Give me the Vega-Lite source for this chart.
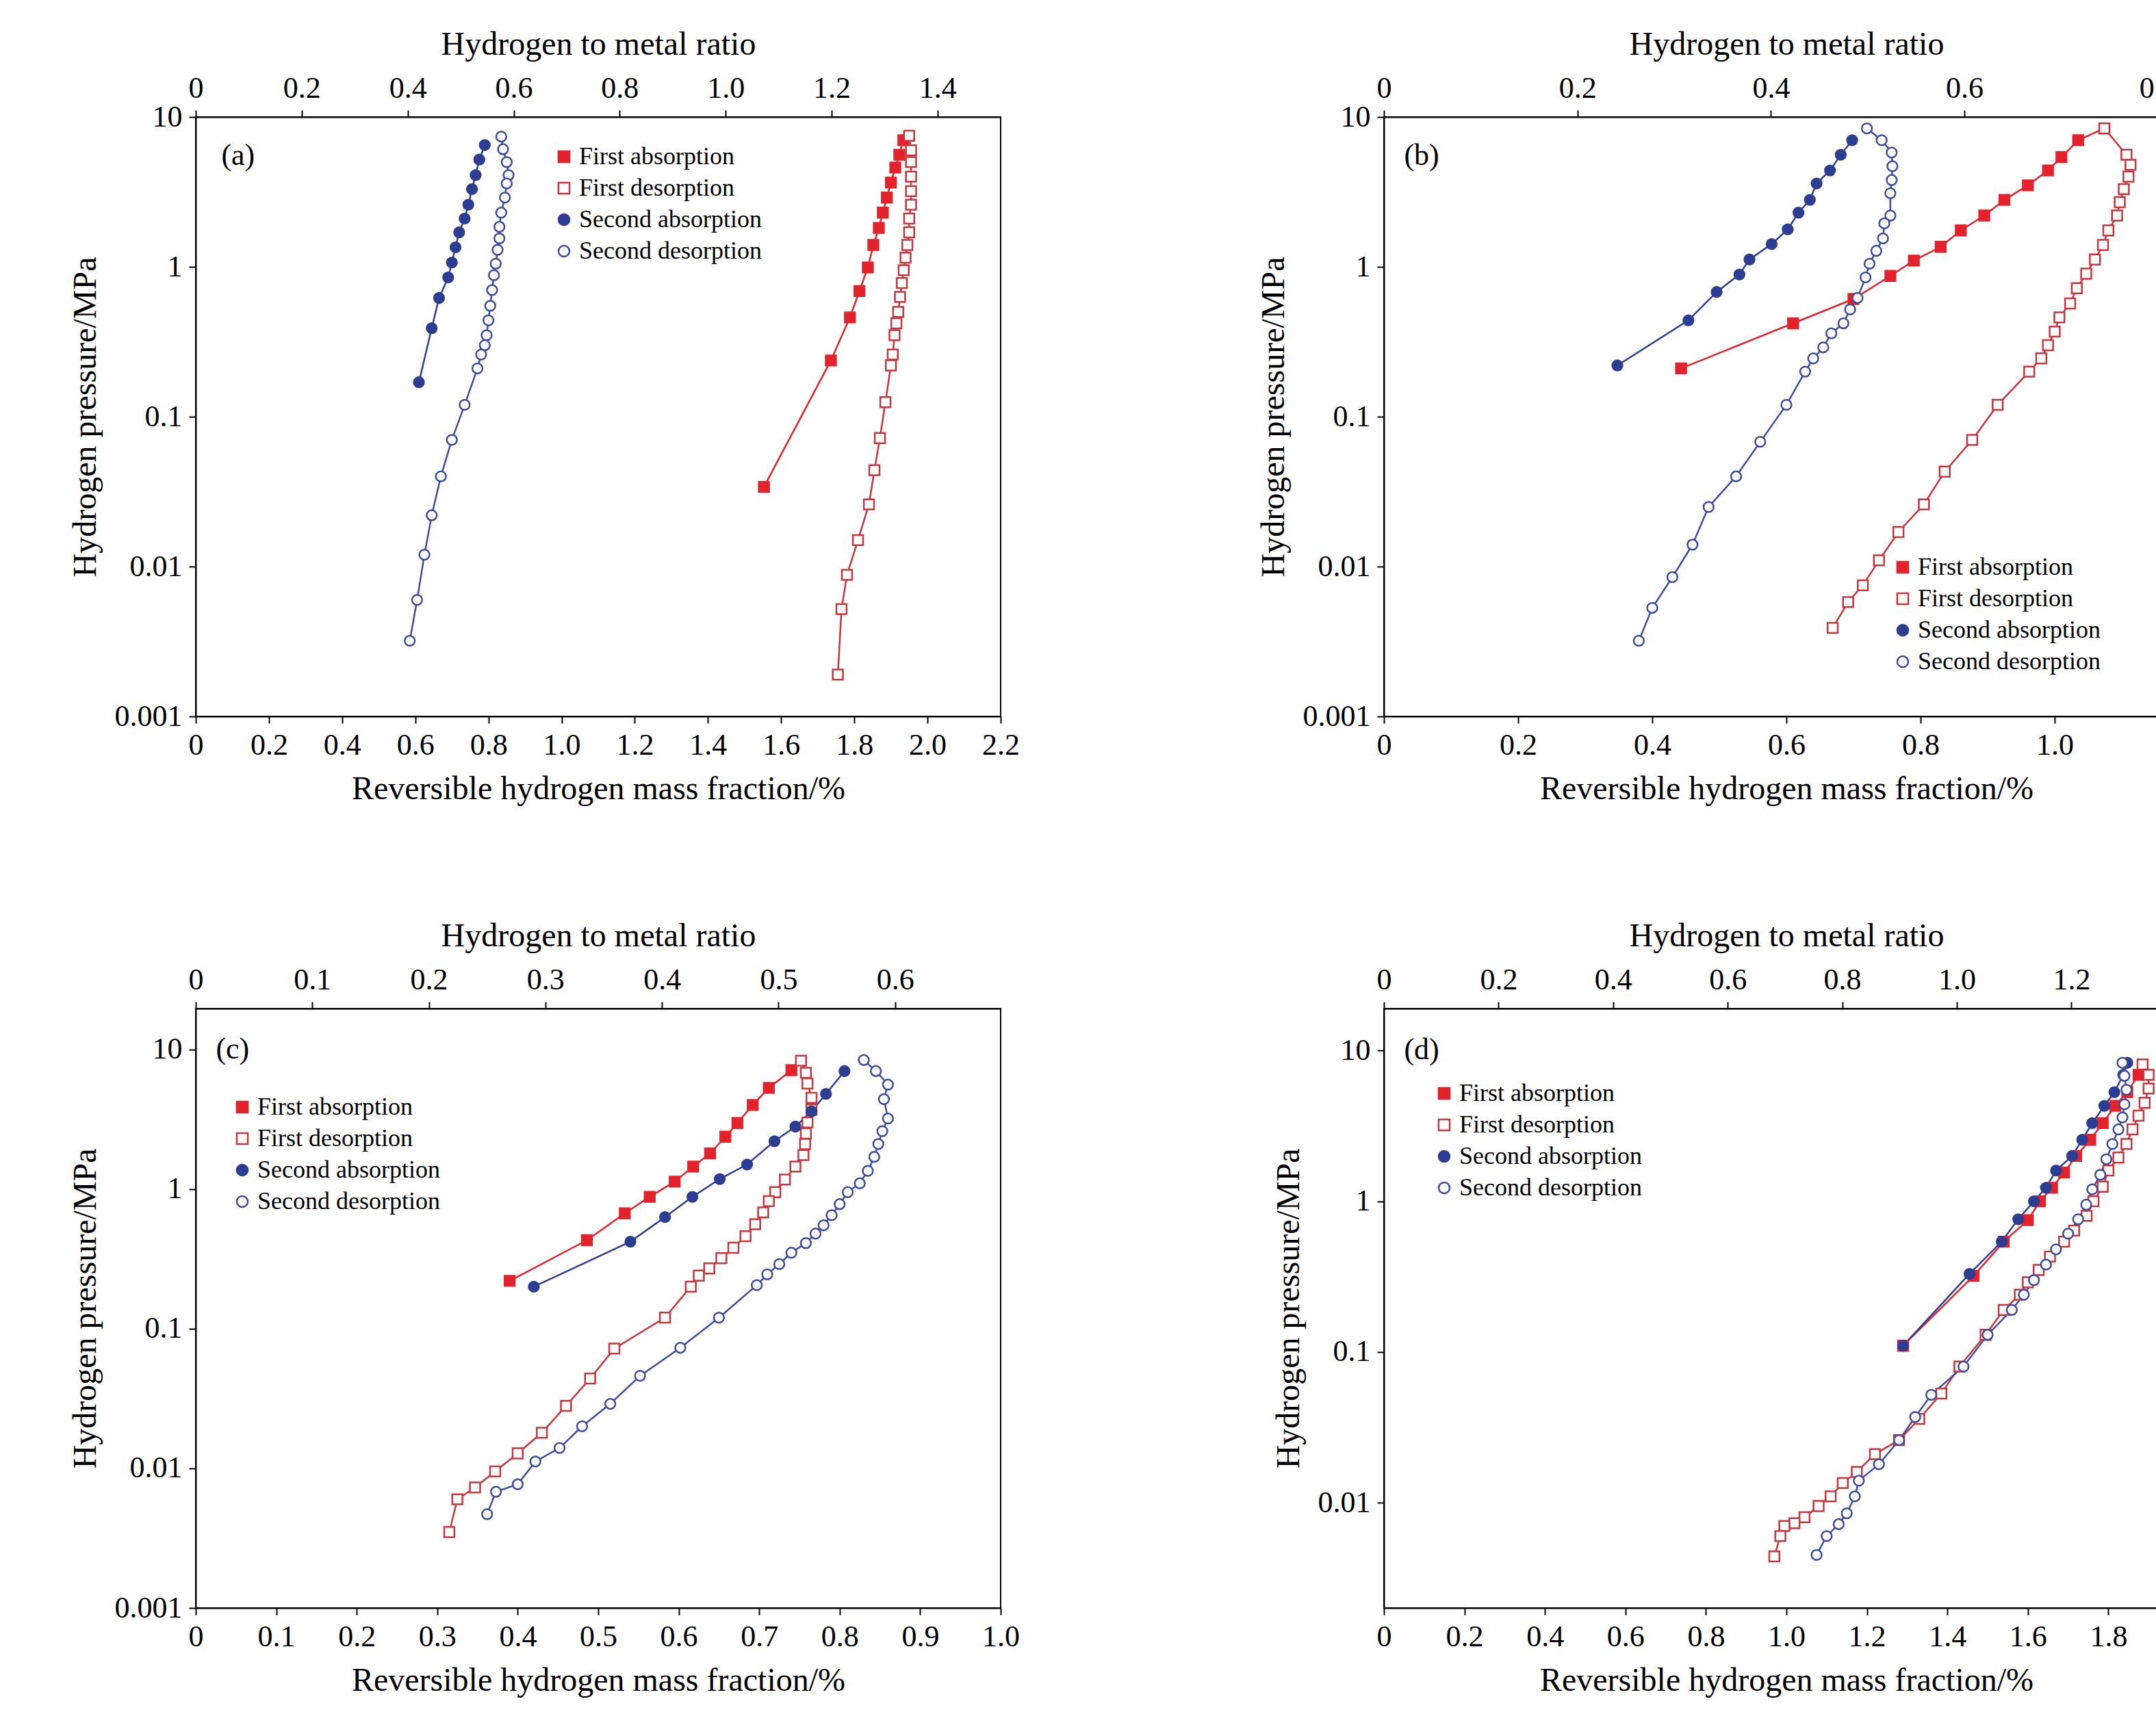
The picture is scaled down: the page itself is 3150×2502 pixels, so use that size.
{
"$schema":"https://vega.github.io/schema/vega-lite/v6.json",
"background":"white",
"padding":{"left":100,"top":40,"right":20,"bottom":10},
"datasets":{
"a":[
{"s":"First absorption","m":1.553,"p":0.034},{"s":"First absorption","m":1.736,"p":0.237},{"s":"First absorption","m":1.788,"p":0.46},{"s":"First absorption","m":1.814,"p":0.69},{"s":"First absorption","m":1.837,"p":0.99},{"s":"First absorption","m":1.852,"p":1.4},{"s":"First absorption","m":1.867,"p":1.82},{"s":"First absorption","m":1.878,"p":2.3},{"s":"First absorption","m":1.889,"p":2.9},{"s":"First absorption","m":1.9,"p":3.65},{"s":"First absorption","m":1.912,"p":4.6},{"s":"First absorption","m":1.923,"p":5.6},{"s":"First absorption","m":1.934,"p":7.0},
{"s":"First desorption","m":1.95,"p":7.5},{"s":"First desorption","m":1.955,"p":6},{"s":"First desorption","m":1.955,"p":5},{"s":"First desorption","m":1.955,"p":4},{"s":"First desorption","m":1.955,"p":3.2},{"s":"First desorption","m":1.955,"p":2.6},{"s":"First desorption","m":1.95,"p":2.1},{"s":"First desorption","m":1.95,"p":1.7},{"s":"First desorption","m":1.945,"p":1.4},{"s":"First desorption","m":1.94,"p":1.15},{"s":"First desorption","m":1.935,"p":0.95},{"s":"First desorption","m":1.93,"p":0.78},{"s":"First desorption","m":1.925,"p":0.63},{"s":"First desorption","m":1.92,"p":0.5},{"s":"First desorption","m":1.915,"p":0.42},{"s":"First desorption","m":1.91,"p":0.35},{"s":"First desorption","m":1.905,"p":0.26},{"s":"First desorption","m":1.9,"p":0.22},{"s":"First desorption","m":1.885,"p":0.125},{"s":"First desorption","m":1.87,"p":0.072},{"s":"First desorption","m":1.855,"p":0.044},{"s":"First desorption","m":1.84,"p":0.026},{"s":"First desorption","m":1.81,"p":0.015},{"s":"First desorption","m":1.78,"p":0.0088},{"s":"First desorption","m":1.765,"p":0.0052},{"s":"First desorption","m":1.755,"p":0.0019},
{"s":"Second absorption","m":0.61,"p":0.17},{"s":"Second absorption","m":0.645,"p":0.39},{"s":"Second absorption","m":0.665,"p":0.62},{"s":"Second absorption","m":0.69,"p":0.85},{"s":"Second absorption","m":0.7,"p":1.07},{"s":"Second absorption","m":0.71,"p":1.35},{"s":"Second absorption","m":0.72,"p":1.7},{"s":"Second absorption","m":0.735,"p":2.1},{"s":"Second absorption","m":0.745,"p":2.6},{"s":"Second absorption","m":0.755,"p":3.3},{"s":"Second absorption","m":0.765,"p":4.1},{"s":"Second absorption","m":0.775,"p":5.2},{"s":"Second absorption","m":0.79,"p":6.5},
{"s":"Second desorption","m":0.835,"p":7.4},{"s":"Second desorption","m":0.84,"p":6.1},{"s":"Second desorption","m":0.85,"p":5.0},{"s":"Second desorption","m":0.855,"p":4.1},{"s":"Second desorption","m":0.85,"p":3.6},{"s":"Second desorption","m":0.845,"p":2.9},{"s":"Second desorption","m":0.835,"p":2.3},{"s":"Second desorption","m":0.83,"p":1.85},{"s":"Second desorption","m":0.83,"p":1.55},{"s":"Second desorption","m":0.825,"p":1.3},{"s":"Second desorption","m":0.82,"p":1.05},{"s":"Second desorption","m":0.815,"p":0.88},{"s":"Second desorption","m":0.81,"p":0.7},{"s":"Second desorption","m":0.805,"p":0.55},{"s":"Second desorption","m":0.8,"p":0.44},{"s":"Second desorption","m":0.795,"p":0.35},{"s":"Second desorption","m":0.79,"p":0.3},{"s":"Second desorption","m":0.78,"p":0.26},{"s":"Second desorption","m":0.77,"p":0.21},{"s":"Second desorption","m":0.735,"p":0.12},{"s":"Second desorption","m":0.7,"p":0.07},{"s":"Second desorption","m":0.67,"p":0.04},{"s":"Second desorption","m":0.645,"p":0.022},{"s":"Second desorption","m":0.625,"p":0.012},{"s":"Second desorption","m":0.605,"p":0.006},{"s":"Second desorption","m":0.585,"p":0.0032}
],
"b":[
{"s":"First absorption","m":0.443,"p":0.21},{"s":"First absorption","m":0.61,"p":0.42},{"s":"First absorption","m":0.7,"p":0.61},{"s":"First absorption","m":0.755,"p":0.87},{"s":"First absorption","m":0.79,"p":1.1},{"s":"First absorption","m":0.83,"p":1.36},{"s":"First absorption","m":0.86,"p":1.75},{"s":"First absorption","m":0.895,"p":2.2},{"s":"First absorption","m":0.925,"p":2.8},{"s":"First absorption","m":0.96,"p":3.5},{"s":"First absorption","m":0.99,"p":4.4},{"s":"First absorption","m":1.01,"p":5.4},{"s":"First absorption","m":1.035,"p":7.0},{"s":"First absorption","m":1.074,"p":8.4},
{"s":"First desorption","m":1.074,"p":8.4},{"s":"First desorption","m":1.107,"p":5.6},{"s":"First desorption","m":1.113,"p":4.8},{"s":"First desorption","m":1.11,"p":4.0},{"s":"First desorption","m":1.103,"p":3.3},{"s":"First desorption","m":1.097,"p":2.7},{"s":"First desorption","m":1.093,"p":2.2},{"s":"First desorption","m":1.08,"p":1.75},{"s":"First desorption","m":1.072,"p":1.4},{"s":"First desorption","m":1.06,"p":1.12},{"s":"First desorption","m":1.047,"p":0.9},{"s":"First desorption","m":1.033,"p":0.72},{"s":"First desorption","m":1.023,"p":0.57},{"s":"First desorption","m":1.007,"p":0.46},{"s":"First desorption","m":1.0,"p":0.37},{"s":"First desorption","m":0.99,"p":0.3},{"s":"First desorption","m":0.98,"p":0.245},{"s":"First desorption","m":0.962,"p":0.2},{"s":"First desorption","m":0.915,"p":0.12},{"s":"First desorption","m":0.877,"p":0.07},{"s":"First desorption","m":0.836,"p":0.043},{"s":"First desorption","m":0.805,"p":0.026},{"s":"First desorption","m":0.767,"p":0.017},{"s":"First desorption","m":0.738,"p":0.011},{"s":"First desorption","m":0.714,"p":0.0075},{"s":"First desorption","m":0.692,"p":0.0058},{"s":"First desorption","m":0.669,"p":0.0039},
{"s":"Second absorption","m":0.348,"p":0.22},{"s":"Second absorption","m":0.454,"p":0.44},{"s":"Second absorption","m":0.496,"p":0.68},{"s":"Second absorption","m":0.53,"p":0.89},{"s":"Second absorption","m":0.545,"p":1.12},{"s":"Second absorption","m":0.578,"p":1.42},{"s":"Second absorption","m":0.602,"p":1.78},{"s":"Second absorption","m":0.618,"p":2.3},{"s":"Second absorption","m":0.635,"p":2.8},{"s":"Second absorption","m":0.645,"p":3.6},{"s":"Second absorption","m":0.665,"p":4.4},{"s":"Second absorption","m":0.681,"p":5.6},{"s":"Second absorption","m":0.698,"p":7.0},
{"s":"Second desorption","m":0.72,"p":8.4},{"s":"Second desorption","m":0.742,"p":7.0},{"s":"Second desorption","m":0.757,"p":5.8},{"s":"Second desorption","m":0.758,"p":4.7},{"s":"Second desorption","m":0.757,"p":3.8},{"s":"Second desorption","m":0.755,"p":3.1},{"s":"Second desorption","m":0.755,"p":2.2},{"s":"Second desorption","m":0.746,"p":1.95},{"s":"Second desorption","m":0.744,"p":1.55},{"s":"Second desorption","m":0.734,"p":1.28},{"s":"Second desorption","m":0.724,"p":1.05},{"s":"Second desorption","m":0.718,"p":0.85},{"s":"Second desorption","m":0.706,"p":0.62},{"s":"Second desorption","m":0.695,"p":0.52},{"s":"Second desorption","m":0.685,"p":0.42},{"s":"Second desorption","m":0.667,"p":0.36},{"s":"Second desorption","m":0.655,"p":0.29},{"s":"Second desorption","m":0.64,"p":0.245},{"s":"Second desorption","m":0.628,"p":0.2},{"s":"Second desorption","m":0.6,"p":0.12},{"s":"Second desorption","m":0.561,"p":0.068},{"s":"Second desorption","m":0.525,"p":0.04},{"s":"Second desorption","m":0.484,"p":0.025},{"s":"Second desorption","m":0.46,"p":0.014},{"s":"Second desorption","m":0.43,"p":0.0085},{"s":"Second desorption","m":0.4,"p":0.0053},{"s":"Second desorption","m":0.38,"p":0.0032}
],
"c":[
{"s":"First absorption","m":0.39,"p":0.22},{"s":"First absorption","m":0.486,"p":0.43},{"s":"First absorption","m":0.533,"p":0.67},{"s":"First absorption","m":0.564,"p":0.88},{"s":"First absorption","m":0.595,"p":1.13},{"s":"First absorption","m":0.618,"p":1.45},{"s":"First absorption","m":0.639,"p":1.8},{"s":"First absorption","m":0.658,"p":2.37},{"s":"First absorption","m":0.673,"p":2.97},{"s":"First absorption","m":0.692,"p":4.0},{"s":"First absorption","m":0.712,"p":5.3},{"s":"First absorption","m":0.74,"p":7.1},
{"s":"First desorption","m":0.752,"p":8.3},{"s":"First desorption","m":0.758,"p":6.8},{"s":"First desorption","m":0.76,"p":5.7},{"s":"First desorption","m":0.765,"p":4.5},{"s":"First desorption","m":0.765,"p":3.7},{"s":"First desorption","m":0.76,"p":3.0},{"s":"First desorption","m":0.758,"p":2.5},{"s":"First desorption","m":0.757,"p":2.1},{"s":"First desorption","m":0.755,"p":1.75},{"s":"First desorption","m":0.745,"p":1.45},{"s":"First desorption","m":0.732,"p":1.17},{"s":"First desorption","m":0.72,"p":0.95},{"s":"First desorption","m":0.712,"p":0.82},{"s":"First desorption","m":0.705,"p":0.68},{"s":"First desorption","m":0.695,"p":0.56},{"s":"First desorption","m":0.683,"p":0.46},{"s":"First desorption","m":0.668,"p":0.38},{"s":"First desorption","m":0.653,"p":0.32},{"s":"First desorption","m":0.638,"p":0.27},{"s":"First desorption","m":0.625,"p":0.24},{"s":"First desorption","m":0.615,"p":0.2},{"s":"First desorption","m":0.583,"p":0.12},{"s":"First desorption","m":0.52,"p":0.072},{"s":"First desorption","m":0.49,"p":0.044},{"s":"First desorption","m":0.46,"p":0.028},{"s":"First desorption","m":0.43,"p":0.018},{"s":"First desorption","m":0.4,"p":0.0128},{"s":"First desorption","m":0.372,"p":0.0095},{"s":"First desorption","m":0.347,"p":0.0073},{"s":"First desorption","m":0.325,"p":0.006},{"s":"First desorption","m":0.315,"p":0.0035},
{"s":"Second absorption","m":0.42,"p":0.2},{"s":"Second absorption","m":0.54,"p":0.42},{"s":"Second absorption","m":0.583,"p":0.63},{"s":"Second absorption","m":0.617,"p":0.88},{"s":"Second absorption","m":0.651,"p":1.18},{"s":"Second absorption","m":0.685,"p":1.5},{"s":"Second absorption","m":0.719,"p":2.2},{"s":"Second absorption","m":0.745,"p":2.8},{"s":"Second absorption","m":0.765,"p":3.6},{"s":"Second absorption","m":0.783,"p":4.8},{"s":"Second absorption","m":0.806,"p":7.0},
{"s":"Second desorption","m":0.83,"p":8.4},{"s":"Second desorption","m":0.845,"p":7.0},{"s":"Second desorption","m":0.86,"p":5.6},{"s":"Second desorption","m":0.855,"p":4.4},{"s":"Second desorption","m":0.86,"p":3.2},{"s":"Second desorption","m":0.853,"p":2.6},{"s":"Second desorption","m":0.848,"p":2.1},{"s":"Second desorption","m":0.843,"p":1.7},{"s":"Second desorption","m":0.835,"p":1.35},{"s":"Second desorption","m":0.825,"p":1.1},{"s":"Second desorption","m":0.81,"p":0.95},{"s":"Second desorption","m":0.8,"p":0.78},{"s":"Second desorption","m":0.79,"p":0.65},{"s":"Second desorption","m":0.78,"p":0.55},{"s":"Second desorption","m":0.77,"p":0.48},{"s":"Second desorption","m":0.758,"p":0.41},{"s":"Second desorption","m":0.74,"p":0.35},{"s":"Second desorption","m":0.725,"p":0.29},{"s":"Second desorption","m":0.71,"p":0.245},{"s":"Second desorption","m":0.697,"p":0.205},{"s":"Second desorption","m":0.65,"p":0.12},{"s":"Second desorption","m":0.602,"p":0.073},{"s":"Second desorption","m":0.552,"p":0.046},{"s":"Second desorption","m":0.515,"p":0.029},{"s":"Second desorption","m":0.48,"p":0.02},{"s":"Second desorption","m":0.452,"p":0.014},{"s":"Second desorption","m":0.422,"p":0.0112},{"s":"Second desorption","m":0.4,"p":0.0077},{"s":"Second desorption","m":0.373,"p":0.0068},{"s":"Second desorption","m":0.362,"p":0.0047}
],
"d":[
{"s":"First absorption","m":1.29,"p":0.11},{"s":"First absorption","m":1.465,"p":0.32},{"s":"First absorption","m":1.54,"p":0.54},{"s":"First absorption","m":1.6,"p":0.75},{"s":"First absorption","m":1.63,"p":1.0},{"s":"First absorption","m":1.66,"p":1.23},{"s":"First absorption","m":1.69,"p":1.55},{"s":"First absorption","m":1.72,"p":2.0},{"s":"First absorption","m":1.755,"p":2.56},{"s":"First absorption","m":1.786,"p":3.3},{"s":"First absorption","m":1.817,"p":4.3},{"s":"First absorption","m":1.847,"p":5.3},{"s":"First absorption","m":1.875,"p":6.9},
{"s":"First desorption","m":1.885,"p":8.1},{"s":"First desorption","m":1.9,"p":6.9},{"s":"First desorption","m":1.9,"p":5.6},{"s":"First desorption","m":1.89,"p":4.5},{"s":"First desorption","m":1.875,"p":3.7},{"s":"First desorption","m":1.86,"p":3.0},{"s":"First desorption","m":1.845,"p":2.4},{"s":"First desorption","m":1.825,"p":1.95},{"s":"First desorption","m":1.8,"p":1.6},{"s":"First desorption","m":1.786,"p":1.25},{"s":"First desorption","m":1.763,"p":1.0},{"s":"First desorption","m":1.746,"p":0.8},{"s":"First desorption","m":1.715,"p":0.64},{"s":"First desorption","m":1.69,"p":0.54},{"s":"First desorption","m":1.655,"p":0.43},{"s":"First desorption","m":1.627,"p":0.35},{"s":"First desorption","m":1.6,"p":0.29},{"s":"First desorption","m":1.58,"p":0.24},{"s":"First desorption","m":1.54,"p":0.19},{"s":"First desorption","m":1.495,"p":0.13},{"s":"First desorption","m":1.43,"p":0.08},{"s":"First desorption","m":1.385,"p":0.053},{"s":"First desorption","m":1.33,"p":0.036},{"s":"First desorption","m":1.28,"p":0.026},{"s":"First desorption","m":1.22,"p":0.021},{"s":"First desorption","m":1.175,"p":0.016},{"s":"First desorption","m":1.14,"p":0.0135},{"s":"First desorption","m":1.11,"p":0.011},{"s":"First desorption","m":1.08,"p":0.0095},{"s":"First desorption","m":1.045,"p":0.008},{"s":"First desorption","m":1.02,"p":0.0073},{"s":"First desorption","m":0.995,"p":0.007},{"s":"First desorption","m":0.985,"p":0.006},{"s":"First desorption","m":0.97,"p":0.0044},
{"s":"Second absorption","m":1.29,"p":0.11},{"s":"Second absorption","m":1.455,"p":0.33},{"s":"Second absorption","m":1.535,"p":0.54},{"s":"Second absorption","m":1.576,"p":0.76},{"s":"Second absorption","m":1.615,"p":1.0},{"s":"Second absorption","m":1.645,"p":1.23},{"s":"Second absorption","m":1.67,"p":1.6},{"s":"Second absorption","m":1.71,"p":2.0},{"s":"Second absorption","m":1.735,"p":2.56},{"s":"Second absorption","m":1.76,"p":3.3},{"s":"Second absorption","m":1.79,"p":4.3},{"s":"Second absorption","m":1.815,"p":5.3},{"s":"Second absorption","m":1.837,"p":6.9},{"s":"Second absorption","m":1.847,"p":8.3},
{"s":"Second desorption","m":1.835,"p":8.3},{"s":"Second desorption","m":1.84,"p":6.8},{"s":"Second desorption","m":1.845,"p":5.5},{"s":"Second desorption","m":1.84,"p":4.4},{"s":"Second desorption","m":1.835,"p":3.6},{"s":"Second desorption","m":1.825,"p":3.0},{"s":"Second desorption","m":1.81,"p":2.4},{"s":"Second desorption","m":1.795,"p":1.9},{"s":"Second desorption","m":1.78,"p":1.5},{"s":"Second desorption","m":1.76,"p":1.2},{"s":"Second desorption","m":1.745,"p":0.95},{"s":"Second desorption","m":1.725,"p":0.76},{"s":"Second desorption","m":1.7,"p":0.61},{"s":"Second desorption","m":1.67,"p":0.48},{"s":"Second desorption","m":1.645,"p":0.38},{"s":"Second desorption","m":1.615,"p":0.3},{"s":"Second desorption","m":1.59,"p":0.24},{"s":"Second desorption","m":1.56,"p":0.19},{"s":"Second desorption","m":1.5,"p":0.13},{"s":"Second desorption","m":1.44,"p":0.08},{"s":"Second desorption","m":1.36,"p":0.052},{"s":"Second desorption","m":1.32,"p":0.037},{"s":"Second desorption","m":1.28,"p":0.026},{"s":"Second desorption","m":1.23,"p":0.018},{"s":"Second desorption","m":1.18,"p":0.014},{"s":"Second desorption","m":1.17,"p":0.011},{"s":"Second desorption","m":1.15,"p":0.0085},{"s":"Second desorption","m":1.13,"p":0.0072},{"s":"Second desorption","m":1.1,"p":0.006},{"s":"Second desorption","m":1.075,"p":0.0045}
]
},
"columns":2,
"spacing":{"row":165,"column":345},
"concat":[
{"width":1176,"height":876,"data":{"name":"a"},"transform":[{"window":[{"op":"row_number","as":"i"}]}],
"layer":[
{"mark":{"type":"line","strokeWidth":2.5},"encoding":{"x":{"field":"m","type":"quantitative","scale":{"domain":[0,2.2]},"axis":{"title":"Reversible hydrogen mass fraction/%","values":[0,0.2,0.4,0.6,0.8,1,1.2,1.4,1.6,1.8,2,2.2],"labelExpr":"datum.value==0?'0':format(datum.value,'.1f')"}},"y":{"field":"p","type":"quantitative","scale":{"type":"log","domain":[0.001,10]},"axis":{"title":"Hydrogen pressure/MPa","values":[0.001,0.01,0.1,1,10],"labelExpr":"format(datum.value,'~g')"}},"stroke":{"field":"s","type":"nominal","scale":{"domain":["First absorption","First desorption","Second absorption","Second desorption"],"range":["#e3232b","#c8363e","#2d3e92","#3d4c9c"]},"legend":{"title":null,"orient":"none","legendX":520,"legendY":40,"labelFontSize":36,"labelFont":"Liberation Serif","labelLimit":0,"symbolSize":260,"symbolStrokeWidth":2.5,"rowPadding":10}},"detail":{"field":"s"},"order":{"field":"i","type":"quantitative"}}},
{"mark":{"type":"point","size":220,"strokeWidth":2.5,"opacity":1,"filled":true},"encoding":{"x":{"field":"m","type":"quantitative","scale":{"domain":[0,2.2]},"axis":null},"y":{"field":"p","type":"quantitative","scale":{"type":"log","domain":[0.001,10]},"axis":{"title":"Hydrogen pressure/MPa","values":[0.001,0.01,0.1,1,10],"labelExpr":"format(datum.value,'~g')"}},"stroke":{"field":"s","type":"nominal","legend":{"title":null,"orient":"none","legendX":520,"legendY":40,"labelFontSize":36,"labelFont":"Liberation Serif","labelLimit":0,"symbolSize":260,"symbolStrokeWidth":2.5,"rowPadding":10}},"fill":{"field":"s","type":"nominal","scale":{"domain":["First absorption","First desorption","Second absorption","Second desorption"],"range":["#e3232b","white","#2d3e92","white"]},"legend":{"title":null,"orient":"none","legendX":520,"legendY":40,"labelFontSize":36,"labelFont":"Liberation Serif","labelLimit":0,"symbolSize":260,"symbolStrokeWidth":2.5,"rowPadding":10}},"shape":{"field":"s","type":"nominal","scale":{"domain":["First absorption","First desorption","Second absorption","Second desorption"],"range":["square","square","circle","circle"]},"legend":{"title":null,"orient":"none","legendX":520,"legendY":40,"labelFontSize":36,"labelFont":"Liberation Serif","labelLimit":0,"symbolSize":260,"symbolStrokeWidth":2.5,"rowPadding":10}}}},
{"data":{"values":[{"r":0}]},"mark":{"type":"point","opacity":0},"encoding":{"x":{"field":"r","type":"quantitative","scale":{"domain":[0,1.519]},"axis":{"orient":"top","title":"Hydrogen to metal ratio","values":[0,0.2,0.4,0.6,0.8,1,1.2,1.4],"labelExpr":"datum.value==0?'0':format(datum.value,'.1f')"}}}},
{"data":{"values":[{"t":"(a)","x":0.07,"y":5.5}]},"mark":{"type":"text","align":"left","fontSize":44,"font":"Liberation Serif"},"encoding":{"x":{"field":"x","type":"quantitative","scale":{"domain":[0,2.2]},"axis":null},"y":{"field":"y","type":"quantitative","scale":{"type":"log","domain":[0.001,10]},"axis":{"title":"Hydrogen pressure/MPa","values":[0.001,0.01,0.1,1,10],"labelExpr":"format(datum.value,'~g')"}},"text":{"field":"t"}}}
],"resolve":{"scale":{"x":"independent"}}},
{"width":1176,"height":876,"data":{"name":"b"},"transform":[{"window":[{"op":"row_number","as":"i"}]}],
"layer":[
{"mark":{"type":"line","strokeWidth":2.5},"encoding":{"x":{"field":"m","type":"quantitative","scale":{"domain":[0,1.2]},"axis":{"title":"Reversible hydrogen mass fraction/%","values":[0,0.2,0.4,0.6,0.8,1,1.2],"labelExpr":"datum.value==0?'0':format(datum.value,'.1f')"}},"y":{"field":"p","type":"quantitative","scale":{"type":"log","domain":[0.001,10]},"axis":{"title":"Hydrogen pressure/MPa","values":[0.001,0.01,0.1,1,10],"labelExpr":"format(datum.value,'~g')"}},"stroke":{"field":"s","type":"nominal","scale":{"domain":["First absorption","First desorption","Second absorption","Second desorption"],"range":["#e3232b","#c8363e","#2d3e92","#3d4c9c"]},"legend":{"title":null,"orient":"none","legendX":740,"legendY":640,"labelFontSize":36,"labelFont":"Liberation Serif","labelLimit":0,"symbolSize":260,"symbolStrokeWidth":2.5,"rowPadding":10}},"detail":{"field":"s"},"order":{"field":"i","type":"quantitative"}}},
{"mark":{"type":"point","size":220,"strokeWidth":2.5,"opacity":1,"filled":true},"encoding":{"x":{"field":"m","type":"quantitative","scale":{"domain":[0,1.2]},"axis":null},"y":{"field":"p","type":"quantitative","scale":{"type":"log","domain":[0.001,10]},"axis":{"title":"Hydrogen pressure/MPa","values":[0.001,0.01,0.1,1,10],"labelExpr":"format(datum.value,'~g')"}},"stroke":{"field":"s","type":"nominal","legend":{"title":null,"orient":"none","legendX":740,"legendY":640,"labelFontSize":36,"labelFont":"Liberation Serif","labelLimit":0,"symbolSize":260,"symbolStrokeWidth":2.5,"rowPadding":10}},"fill":{"field":"s","type":"nominal","scale":{"domain":["First absorption","First desorption","Second absorption","Second desorption"],"range":["#e3232b","white","#2d3e92","white"]},"legend":{"title":null,"orient":"none","legendX":740,"legendY":640,"labelFontSize":36,"labelFont":"Liberation Serif","labelLimit":0,"symbolSize":260,"symbolStrokeWidth":2.5,"rowPadding":10}},"shape":{"field":"s","type":"nominal","scale":{"domain":["First absorption","First desorption","Second absorption","Second desorption"],"range":["square","square","circle","circle"]},"legend":{"title":null,"orient":"none","legendX":740,"legendY":640,"labelFontSize":36,"labelFont":"Liberation Serif","labelLimit":0,"symbolSize":260,"symbolStrokeWidth":2.5,"rowPadding":10}}}},
{"data":{"values":[{"r":0}]},"mark":{"type":"point","opacity":0},"encoding":{"x":{"field":"r","type":"quantitative","scale":{"domain":[0,0.832]},"axis":{"orient":"top","title":"Hydrogen to metal ratio","values":[0,0.2,0.4,0.6,0.8],"labelExpr":"datum.value==0?'0':format(datum.value,'.1f')"}}}},
{"data":{"values":[{"t":"(b)","x":0.03,"y":5.5}]},"mark":{"type":"text","align":"left","fontSize":44,"font":"Liberation Serif"},"encoding":{"x":{"field":"x","type":"quantitative","scale":{"domain":[0,1.2]},"axis":null},"y":{"field":"y","type":"quantitative","scale":{"type":"log","domain":[0.001,10]},"axis":{"title":"Hydrogen pressure/MPa","values":[0.001,0.01,0.1,1,10],"labelExpr":"format(datum.value,'~g')"}},"text":{"field":"t"}}}
],"resolve":{"scale":{"x":"independent"}}},
{"width":1176,"height":876,"data":{"name":"c"},"transform":[{"window":[{"op":"row_number","as":"i"}]}],
"layer":[
{"mark":{"type":"line","strokeWidth":2.5},"encoding":{"x":{"field":"m","type":"quantitative","scale":{"domain":[0,1.0]},"axis":{"title":"Reversible hydrogen mass fraction/%","values":[0,0.1,0.2,0.3,0.4,0.5,0.6,0.7,0.8,0.9,1.0],"labelExpr":"datum.value==0?'0':format(datum.value,'.1f')"}},"y":{"field":"p","type":"quantitative","scale":{"type":"log","domain":[0.001,19.6]},"axis":{"title":"Hydrogen pressure/MPa","values":[0.001,0.01,0.1,1,10],"labelExpr":"format(datum.value,'~g')"}},"stroke":{"field":"s","type":"nominal","scale":{"domain":["First absorption","First desorption","Second absorption","Second desorption"],"range":["#e3232b","#c8363e","#2d3e92","#3d4c9c"]},"legend":{"title":null,"orient":"none","legendX":50,"legendY":126,"labelFontSize":36,"labelFont":"Liberation Serif","labelLimit":0,"symbolSize":260,"symbolStrokeWidth":2.5,"rowPadding":10}},"detail":{"field":"s"},"order":{"field":"i","type":"quantitative"}}},
{"mark":{"type":"point","size":220,"strokeWidth":2.5,"opacity":1,"filled":true},"encoding":{"x":{"field":"m","type":"quantitative","scale":{"domain":[0,1.0]},"axis":null},"y":{"field":"p","type":"quantitative","scale":{"type":"log","domain":[0.001,19.6]},"axis":{"title":"Hydrogen pressure/MPa","values":[0.001,0.01,0.1,1,10],"labelExpr":"format(datum.value,'~g')"}},"stroke":{"field":"s","type":"nominal","legend":{"title":null,"orient":"none","legendX":50,"legendY":126,"labelFontSize":36,"labelFont":"Liberation Serif","labelLimit":0,"symbolSize":260,"symbolStrokeWidth":2.5,"rowPadding":10}},"fill":{"field":"s","type":"nominal","scale":{"domain":["First absorption","First desorption","Second absorption","Second desorption"],"range":["#e3232b","white","#2d3e92","white"]},"legend":{"title":null,"orient":"none","legendX":50,"legendY":126,"labelFontSize":36,"labelFont":"Liberation Serif","labelLimit":0,"symbolSize":260,"symbolStrokeWidth":2.5,"rowPadding":10}},"shape":{"field":"s","type":"nominal","scale":{"domain":["First absorption","First desorption","Second absorption","Second desorption"],"range":["square","square","circle","circle"]},"legend":{"title":null,"orient":"none","legendX":50,"legendY":126,"labelFontSize":36,"labelFont":"Liberation Serif","labelLimit":0,"symbolSize":260,"symbolStrokeWidth":2.5,"rowPadding":10}}}},
{"data":{"values":[{"r":0}]},"mark":{"type":"point","opacity":0},"encoding":{"x":{"field":"r","type":"quantitative","scale":{"domain":[0,0.6906]},"axis":{"orient":"top","title":"Hydrogen to metal ratio","values":[0,0.1,0.2,0.3,0.4,0.5,0.6],"labelExpr":"datum.value==0?'0':format(datum.value,'.1f')"}}}},
{"data":{"values":[{"t":"(c)","x":0.025,"y":10}]},"mark":{"type":"text","align":"left","fontSize":44,"font":"Liberation Serif"},"encoding":{"x":{"field":"x","type":"quantitative","scale":{"domain":[0,1.0]},"axis":null},"y":{"field":"y","type":"quantitative","scale":{"type":"log","domain":[0.001,19.6]},"axis":{"title":"Hydrogen pressure/MPa","values":[0.001,0.01,0.1,1,10],"labelExpr":"format(datum.value,'~g')"}},"text":{"field":"t"}}}
],"resolve":{"scale":{"x":"independent"}}},
{"width":1176,"height":876,"data":{"name":"d"},"transform":[{"window":[{"op":"row_number","as":"i"}]}],
"layer":[
{"mark":{"type":"line","strokeWidth":2.5},"encoding":{"x":{"field":"m","type":"quantitative","scale":{"domain":[0,2.0]},"axis":{"title":"Reversible hydrogen mass fraction/%","values":[0,0.2,0.4,0.6,0.8,1,1.2,1.4,1.6,1.8,2.0],"labelExpr":"datum.value==0?'0':format(datum.value,'.1f')"}},"y":{"field":"p","type":"quantitative","scale":{"type":"log","domain":[0.002,19]},"axis":{"title":"Hydrogen pressure/MPa","values":[0.01,0.1,1,10],"labelExpr":"format(datum.value,'~g')"}},"stroke":{"field":"s","type":"nominal","scale":{"domain":["First absorption","First desorption","Second absorption","Second desorption"],"range":["#e3232b","#c8363e","#2d3e92","#3d4c9c"]},"legend":{"title":null,"orient":"none","legendX":70,"legendY":106,"labelFontSize":36,"labelFont":"Liberation Serif","labelLimit":0,"symbolSize":260,"symbolStrokeWidth":2.5,"rowPadding":10}},"detail":{"field":"s"},"order":{"field":"i","type":"quantitative"}}},
{"mark":{"type":"point","size":220,"strokeWidth":2.5,"opacity":1,"filled":true},"encoding":{"x":{"field":"m","type":"quantitative","scale":{"domain":[0,2.0]},"axis":null},"y":{"field":"p","type":"quantitative","scale":{"type":"log","domain":[0.002,19]},"axis":{"title":"Hydrogen pressure/MPa","values":[0.01,0.1,1,10],"labelExpr":"format(datum.value,'~g')"}},"stroke":{"field":"s","type":"nominal","legend":{"title":null,"orient":"none","legendX":70,"legendY":106,"labelFontSize":36,"labelFont":"Liberation Serif","labelLimit":0,"symbolSize":260,"symbolStrokeWidth":2.5,"rowPadding":10}},"fill":{"field":"s","type":"nominal","scale":{"domain":["First absorption","First desorption","Second absorption","Second desorption"],"range":["#e3232b","white","#2d3e92","white"]},"legend":{"title":null,"orient":"none","legendX":70,"legendY":106,"labelFontSize":36,"labelFont":"Liberation Serif","labelLimit":0,"symbolSize":260,"symbolStrokeWidth":2.5,"rowPadding":10}},"shape":{"field":"s","type":"nominal","scale":{"domain":["First absorption","First desorption","Second absorption","Second desorption"],"range":["square","square","circle","circle"]},"legend":{"title":null,"orient":"none","legendX":70,"legendY":106,"labelFontSize":36,"labelFont":"Liberation Serif","labelLimit":0,"symbolSize":260,"symbolStrokeWidth":2.5,"rowPadding":10}}}},
{"data":{"values":[{"r":0}]},"mark":{"type":"point","opacity":0},"encoding":{"x":{"field":"r","type":"quantitative","scale":{"domain":[0,1.405]},"axis":{"orient":"top","title":"Hydrogen to metal ratio","values":[0,0.2,0.4,0.6,0.8,1,1.2,1.4],"labelExpr":"datum.value==0?'0':format(datum.value,'.1f')"}}}},
{"data":{"values":[{"t":"(d)","x":0.05,"y":10}]},"mark":{"type":"text","align":"left","fontSize":44,"font":"Liberation Serif"},"encoding":{"x":{"field":"x","type":"quantitative","scale":{"domain":[0,2.0]},"axis":null},"y":{"field":"y","type":"quantitative","scale":{"type":"log","domain":[0.002,19]},"axis":{"title":"Hydrogen pressure/MPa","values":[0.01,0.1,1,10],"labelExpr":"format(datum.value,'~g')"}},"text":{"field":"t"}}}
],"resolve":{"scale":{"x":"independent"}}}
],
"resolve":{"scale":{"x":"independent","y":"independent"},"legend":{"stroke":"independent","fill":"independent","shape":"independent"}},
"config":{
"view":{"stroke":"black","strokeWidth":2},
"axis":{"grid":false,"labelFont":"Liberation Serif","titleFont":"Liberation Serif","labelFontSize":44,"titleFontSize":48,"titleFontWeight":"normal","labelColor":"black","titleColor":"black","domainColor":"black","tickColor":"black","tickSize":10,"domainWidth":2,"tickWidth":2,"labelPadding":10,"titlePadding":18,"labelFlush":false,"labelOverlap":false}
}
}
